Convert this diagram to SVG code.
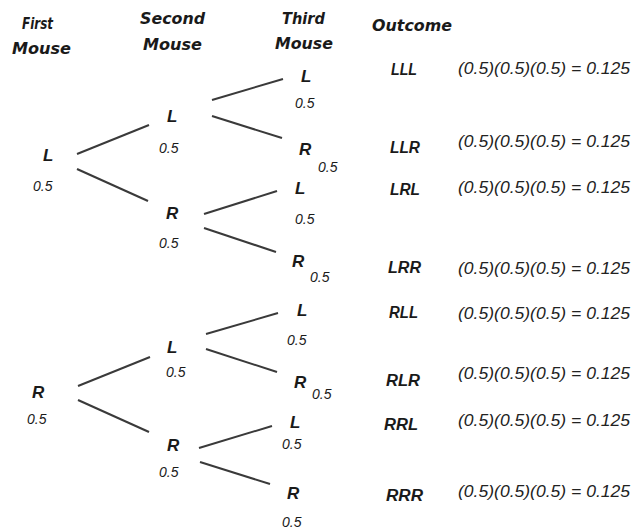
<svg xmlns="http://www.w3.org/2000/svg" width="634" height="530" viewBox="0 0 634 530">
<style>
.hd{font-family:"DejaVu Sans",sans-serif;font-weight:bold;font-style:italic;font-size:15px;fill:#1a1a1a}
.nd{font-family:"Liberation Sans",Arial,sans-serif;font-weight:bold;font-style:italic;font-size:17px;fill:#1a1a1a}
.pr{font-family:"Liberation Sans",Arial,sans-serif;font-style:italic;font-size:14px;fill:#1a1a1a}
.oc{font-family:"Liberation Sans",Arial,sans-serif;font-weight:bold;font-style:italic;font-size:16px;fill:#1a1a1a}
.fm{font-family:"Liberation Sans",Arial,sans-serif;font-style:italic;font-size:17px;fill:#222}
.ln{stroke:#3a3a3a;stroke-width:2;fill:none;stroke-linecap:butt}
</style>
<rect width="634" height="530" fill="#fff"/>
<g id="headers">
<text class="hd" x="22" y="29" textLength="31" lengthAdjust="spacingAndGlyphs">First</text>
<text class="hd" x="12" y="54" textLength="59" lengthAdjust="spacingAndGlyphs">Mouse</text>
<text class="hd" x="140" y="24" textLength="65" lengthAdjust="spacingAndGlyphs">Second</text>
<text class="hd" x="143" y="50" textLength="59" lengthAdjust="spacingAndGlyphs">Mouse</text>
<text class="hd" x="282" y="24" textLength="43" lengthAdjust="spacingAndGlyphs">Third</text>
<text class="hd" x="275" y="49" textLength="58" lengthAdjust="spacingAndGlyphs">Mouse</text>
<text class="hd" x="372" y="31" textLength="80" lengthAdjust="spacingAndGlyphs">Outcome</text>
</g>
<g id="connectors">
<line class="ln" x1="77" y1="154" x2="149" y2="125"/>
<line class="ln" x1="77" y1="169" x2="148" y2="201"/>
<line class="ln" x1="212" y1="100" x2="283" y2="79"/>
<line class="ln" x1="212" y1="116" x2="282" y2="138"/>
<line class="ln" x1="204" y1="214" x2="277" y2="191"/>
<line class="ln" x1="204" y1="228" x2="276" y2="252"/>
<line class="ln" x1="78" y1="386" x2="150" y2="357"/>
<line class="ln" x1="78" y1="400" x2="149" y2="432"/>
<line class="ln" x1="206" y1="334" x2="278" y2="313"/>
<line class="ln" x1="206" y1="349" x2="277" y2="372"/>
<line class="ln" x1="199" y1="448" x2="272" y2="426"/>
<line class="ln" x1="200" y1="462" x2="270" y2="484"/>
</g>
<g id="n-L"><text class="nd" x="43" y="161">L</text><text class="pr" x="33" y="191">0.5</text></g>
<g id="n-R"><text class="nd" x="32" y="398">R</text><text class="pr" x="27" y="424">0.5</text></g>
<g id="n-LL"><text class="nd" x="167" y="122">L</text><text class="pr" x="159" y="153">0.5</text></g>
<g id="n-LR"><text class="nd" x="166" y="219">R</text><text class="pr" x="159" y="248">0.5</text></g>
<g id="n-RL"><text class="nd" x="167" y="353">L</text><text class="pr" x="166" y="377">0.5</text></g>
<g id="n-RR"><text class="nd" x="167" y="451">R</text><text class="pr" x="159" y="477">0.5</text></g>
<g id="n-LLL"><text class="nd" x="301" y="82">L</text><text class="pr" x="295" y="108">0.5</text></g>
<g id="n-LLR"><text class="nd" x="299" y="155">R</text><text class="pr" x="318" y="172">0.5</text></g>
<g id="n-LRL"><text class="nd" x="295" y="194">L</text><text class="pr" x="295" y="224">0.5</text></g>
<g id="n-LRR"><text class="nd" x="292" y="267">R</text><text class="pr" x="310" y="282">0.5</text></g>
<g id="n-RLL"><text class="nd" x="297" y="316">L</text><text class="pr" x="287" y="345">0.5</text></g>
<g id="n-RLR"><text class="nd" x="294" y="388">R</text><text class="pr" x="312" y="399">0.5</text></g>
<g id="n-RRL"><text class="nd" x="290" y="428">L</text><text class="pr" x="282" y="449">0.5</text></g>
<g id="n-RRR"><text class="nd" x="287" y="499">R</text><text class="pr" x="282" y="527">0.5</text></g>
<g id="outcomes">
<text class="oc" x="391" y="75" textLength="26" lengthAdjust="spacingAndGlyphs">LLL</text>
<text class="fm" x="458" y="74" textLength="172" lengthAdjust="spacingAndGlyphs">(0.5)(0.5)(0.5) = 0.125</text>
<text class="oc" x="390" y="153" textLength="30" lengthAdjust="spacingAndGlyphs">LLR</text>
<text class="fm" x="458" y="147" textLength="172" lengthAdjust="spacingAndGlyphs">(0.5)(0.5)(0.5) = 0.125</text>
<text class="oc" x="390" y="195" textLength="30" lengthAdjust="spacingAndGlyphs">LRL</text>
<text class="fm" x="458" y="193" textLength="172" lengthAdjust="spacingAndGlyphs">(0.5)(0.5)(0.5) = 0.125</text>
<text class="oc" x="388" y="273" textLength="33" lengthAdjust="spacingAndGlyphs">LRR</text>
<text class="fm" x="458" y="274" textLength="172" lengthAdjust="spacingAndGlyphs">(0.5)(0.5)(0.5) = 0.125</text>
<text class="oc" x="389" y="318" textLength="29" lengthAdjust="spacingAndGlyphs">RLL</text>
<text class="fm" x="458" y="319" textLength="172" lengthAdjust="spacingAndGlyphs">(0.5)(0.5)(0.5) = 0.125</text>
<text class="oc" x="386" y="386" textLength="34" lengthAdjust="spacingAndGlyphs">RLR</text>
<text class="fm" x="458" y="379" textLength="172" lengthAdjust="spacingAndGlyphs">(0.5)(0.5)(0.5) = 0.125</text>
<text class="oc" x="384" y="430" textLength="34" lengthAdjust="spacingAndGlyphs">RRL</text>
<text class="fm" x="458" y="426" textLength="172" lengthAdjust="spacingAndGlyphs">(0.5)(0.5)(0.5) = 0.125</text>
<text class="oc" x="386" y="501" textLength="37" lengthAdjust="spacingAndGlyphs">RRR</text>
<text class="fm" x="458" y="497" textLength="172" lengthAdjust="spacingAndGlyphs">(0.5)(0.5)(0.5) = 0.125</text>
</g>
</svg>
